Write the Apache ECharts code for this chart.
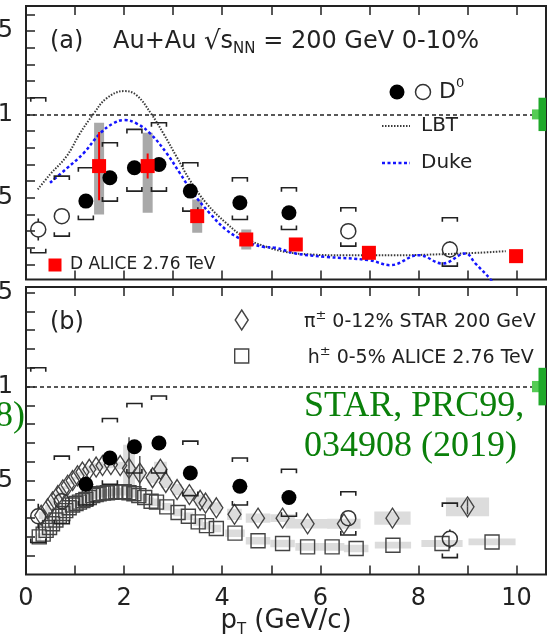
<!DOCTYPE html>
<html><head><meta charset="utf-8">
<script src="https://cdn.jsdelivr.net/npm/echarts@6/dist/echarts.min.js"></script>
<style>html,body{margin:0;padding:0;background:#fff}#main{width:552px;height:644px}</style>
</head><body><div id="main"></div>
<script>
// ---- STAR D0 R_AA, Au+Au 200 GeV 0-10% ----
const d0FilledPt = [1.22, 1.71, 2.21, 2.71, 3.35, 4.36, 5.36];
const d0FilledRaa = [0.48, 0.62, 0.68, 0.70, 0.54, 0.47, 0.41];
const d0FilledStat = [0.02, 0.02, 0.02, 0.02, 0.02, 0.02, 0.02];
const d0FilledSysLo = [0.37, 0.48, 0.54, 0.54, 0.42, 0.37, 0.31];
const d0FilledSysHi = [0.68, 0.83, 0.91, 0.95, 0.71, 0.62, 0.56];
const d0OpenPt = [0.25, 0.73, 6.57, 8.64];
const d0OpenRaa = [0.31, 0.39, 0.30, 0.19];
const d0OpenStat = [0.066, 0.02, 0.02, 0.05];
const d0OpenSysLo = [0.17, 0.27, 0.21, 0.09];
const d0OpenSysHi = [1.10, 0.63, 0.44, 0.38];

// ---- ALICE D mesons, Pb+Pb 2.76 TeV ----
const aliceDPt = [1.49, 2.48, 3.49, 4.49, 5.50, 6.99, 9.99];
const aliceDRaa = [0.69, 0.69, 0.39, 0.25, 0.22, 0.17, 0.15];
const aliceDStat = [0.205, 0.075, 0.02, 0.02, 0.02, 0.02, 0.02];
const aliceDSysLo = [0.40, 0.41, 0.29, 0.19, 0.19, 0.15, 0.13];
const aliceDSysHi = [0.95, 0.89, 0.49, 0.31, 0.25, 0.19, 0.17];

// ---- Model curves ----
const lbtPt = [0.24, 0.49, 0.83, 1.10, 1.37, 1.64, 2.00, 2.25, 2.56, 2.80, 3.07, 3.34, 3.68, 4.09, 4.49, 4.90, 5.30, 5.80, 6.50, 7.50, 8.50, 9.20, 9.78];
const lbtRaa = [0.55, 0.64, 0.75, 0.886, 1.0, 1.096, 1.14, 1.116, 1.0, 0.886, 0.746, 0.606, 0.466, 0.346, 0.256, 0.206, 0.175, 0.16, 0.155, 0.155, 0.162, 0.17, 0.18];
const dukePt = [0.49, 0.83, 1.17, 1.51, 1.78, 2.00, 2.25, 2.53, 2.87, 3.14, 3.41, 3.75, 4.09, 4.43, 4.83, 5.09, 5.50, 6.11, 6.99, 7.43, 8.01, 8.49, 8.96, 9.16, 9.47, 9.60];
const dukeRaa = [0.59, 0.676, 0.766, 0.886, 0.946, 0.966, 0.946, 0.886, 0.766, 0.646, 0.526, 0.406, 0.306, 0.246, 0.206, 0.20, 0.166, 0.146, 0.126, 0.096, 0.156, 0.106, 0.166, 0.106, 0.01, -0.05];

// ---- STAR pi+- 0-12% ----
const piPt = [0.31, 0.44, 0.54, 0.65, 0.75, 0.85, 0.95, 1.05, 1.15, 1.29, 1.43, 1.56, 1.73, 1.92, 2.10, 2.32, 2.58, 2.74, 2.85, 3.08, 3.33, 3.55, 3.66, 3.88, 4.25, 4.73, 5.23, 5.74, 6.48, 7.47, 9.00];
const piRaa = [0.315, 0.35, 0.386, 0.42, 0.45, 0.475, 0.50, 0.525, 0.545, 0.56, 0.572, 0.58, 0.585, 0.58, 0.565, 0.54, 0.515, 0.56, 0.49, 0.452, 0.425, 0.395, 0.38, 0.355, 0.32, 0.30, 0.30, 0.27, 0.27, 0.30, 0.36];
const piStat = [0, 0, 0, 0, 0, 0, 0, 0, 0, 0, 0, 0, 0, 0, 0.165, 0.09, 0, 0, 0, 0, 0, 0, 0, 0, 0, 0, 0, 0, 0, 0, 0.04];
const piSys = [0.02, 0.02, 0.02, 0.02, 0.02, 0.02, 0.02, 0.02, 0.02, 0.02, 0.02, 0.02, 0.02, 0.02, 0.125, 0.03, 0.03, 0.04, 0.03, 0.03, 0.03, 0.03, 0.03, 0.03, 0.03, 0.025, 0.02, 0.025, 0.027, 0.035, 0.05];
const piBinHalf = [0.05, 0.05, 0.05, 0.05, 0.05, 0.05, 0.05, 0.05, 0.05, 0.07, 0.07, 0.07, 0.08, 0.08, 0.12, 0.1, 0.1, 0.13, 0.1, 0.1, 0.1, 0.1, 0.1, 0.1, 0.15, 0.25, 0.25, 0.45, 0.34, 0.37, 0.44];

// ---- ALICE h+- 0-5% ----
const hPt = [0.27, 0.35, 0.41, 0.48, 0.54, 0.61, 0.68, 0.75, 0.81, 0.88, 0.95, 1.02, 1.09, 1.16, 1.22, 1.29, 1.36, 1.43, 1.49, 1.58, 1.66, 1.75, 1.83, 1.92, 2.00, 2.10, 2.20, 2.30, 2.42, 2.55, 2.66, 2.87, 3.10, 3.31, 3.51, 3.68, 3.88, 4.26, 4.73, 5.23, 5.74, 6.24, 6.73, 7.48, 8.48, 9.50];
const hRaa = [0.20, 0.215, 0.235, 0.25, 0.27, 0.29, 0.31, 0.325, 0.34, 0.355, 0.37, 0.378, 0.385, 0.393, 0.40, 0.41, 0.42, 0.425, 0.43, 0.433, 0.435, 0.438, 0.44, 0.44, 0.44, 0.435, 0.43, 0.42, 0.41, 0.39, 0.385, 0.36, 0.33, 0.31, 0.28, 0.26, 0.245, 0.22, 0.18, 0.165, 0.147, 0.147, 0.138, 0.156, 0.165, 0.173];
const hSys = [0.02, 0.02, 0.02, 0.02, 0.02, 0.02, 0.02, 0.02, 0.02, 0.02, 0.02, 0.02, 0.02, 0.02, 0.02, 0.02, 0.02, 0.02, 0.02, 0.02, 0.02, 0.02, 0.02, 0.02, 0.02, 0.02, 0.02, 0.02, 0.02, 0.02, 0.02, 0.02, 0.02, 0.02, 0.02, 0.02, 0.02, 0.02, 0.02, 0.02, 0.02, 0.02, 0.02, 0.018, 0.018, 0.018];
const hBinHalf = [0.04, 0.04, 0.04, 0.04, 0.04, 0.04, 0.04, 0.04, 0.04, 0.04, 0.04, 0.04, 0.04, 0.04, 0.04, 0.05, 0.05, 0.05, 0.05, 0.05, 0.05, 0.05, 0.05, 0.05, 0.05, 0.05, 0.05, 0.05, 0.06, 0.06, 0.1, 0.1, 0.1, 0.1, 0.1, 0.1, 0.1, 0.2, 0.25, 0.25, 0.25, 0.25, 0.25, 0.37, 0.42, 0.48];

// ---- Normalisation uncertainty at R_AA = 1 ----
const normCenter = 1.0;
const normOuter = 0.1;
const normInner = 0.03;

// ---- Axes ----
const xMin = 0, xMax = 10.6;
const xTickValues = [0, 1, 2, 3, 4, 5, 6, 7, 8, 9, 10];
const xLabelValues = [0, 2, 4, 6, 8, 10];
const yTickValues = [0.1, 0.2, 0.3, 0.4, 0.5, 0.6, 0.7, 0.8, 0.9, 1.0, 1.1, 1.2, 1.3, 1.4, 1.5, 1.6];
const yLabelValues = [0.5, 1, 1.5];

const FONT = "'DejaVu Sans', sans-serif";
const INK = '#222';
const MARKER_R = 7.5;

const zip = (...cols) => cols[0].map((_, i) => cols.map(c => c[i]));

// bracket-style systematic uncertainties [x, lo, hi]
function bracketItem(params, api) {
  const x = api.value(0);
  const pt = api.coord([x, api.value(2)]);
  const pb = api.coord([x, api.value(1)]);
  const w = 7.5, h = 4;
  const st = { stroke: INK, lineWidth: 1.6, fill: null };
  return { type: 'group', children: [
    { type: 'polyline', shape: { points: [[pt[0] - w, pt[1] + h], [pt[0] - w, pt[1]], [pt[0] + w, pt[1]], [pt[0] + w, pt[1] + h]] }, style: st },
    { type: 'polyline', shape: { points: [[pb[0] - w, pb[1] - h], [pb[0] - w, pb[1]], [pb[0] + w, pb[1]], [pb[0] + w, pb[1] - h]] }, style: st }
  ]};
}
// vertical error bar [x, y, err], drawn outside the marker
function errBar(color, lw, gap) {
  return function (params, api) {
    const x = api.value(0), y = api.value(1), e = api.value(2);
    if (!e) return null;
    const a = api.coord([x, y + e]), c = api.coord([x, y]), b = api.coord([x, y - e]);
    const st = { stroke: color, lineWidth: lw };
    if (c[1] - a[1] <= gap) return null;
    return { type: 'group', children: [
      { type: 'line', shape: { x1: a[0], y1: a[1], x2: c[0], y2: c[1] - gap }, style: st },
      { type: 'line', shape: { x1: c[0], y1: c[1] + gap, x2: b[0], y2: b[1] }, style: st }
    ]};
  };
}
// filled box [x, lo, hi] with fixed pixel width
function fixedBox(color, halfPx) {
  return function (params, api) {
    const x = api.value(0);
    const a = api.coord([x, api.value(2)]), b = api.coord([x, api.value(1)]);
    return { type: 'rect', shape: { x: a[0] - halfPx, y: a[1], width: 2 * halfPx, height: b[1] - a[1] }, style: { fill: color } };
  };
}
// filled box [x, y, sys, halfWidth] in data units
function binBox(color) {
  return function (params, api) {
    const x = api.value(0), y = api.value(1), s = api.value(2), hw = api.value(3);
    const a = api.coord([x - hw, y + s]), b = api.coord([x + hw, y - s]);
    return { type: 'rect', shape: { x: a[0], y: a[1], width: b[0] - a[0], height: b[1] - a[1] }, style: { fill: color } };
  };
}
// normalisation boxes at the right edge
function normItem(params, api) {
  const c = api.value(0), outer = api.value(1), inner = api.value(2);
  const top = api.coord([xMax, c + outer]), bot = api.coord([xMax, c - outer]);
  const ti = api.coord([xMax, c + inner]), bi = api.coord([xMax, c - inner]);
  return { type: 'group', children: [
    { type: 'rect', shape: { x: top[0] - 14, y: ti[1], width: 7, height: bi[1] - ti[1] }, style: { fill: '#55cc55' } },
    { type: 'rect', shape: { x: top[0] - 7.5, y: top[1], width: 7.5, height: bot[1] - top[1] }, style: { fill: '#1fa82a' } }
  ]};
}

function xAxisDef(gridIndex, position, labels) {
  return {
    type: 'value', gridIndex, position, min: xMin, max: xMax,
    axisLine: { show: false }, splitLine: { show: false },
    axisTick: { show: true, inside: true, length: 9, customValues: xTickValues, lineStyle: { color: INK, width: 1.5 } },
    axisLabel: labels ? { show: true, customValues: xLabelValues, fontFamily: FONT, fontSize: 24, color: INK, margin: 12 } : { show: false }
  };
}
function yAxisDef(gridIndex, min, max) {
  return {
    type: 'value', gridIndex, min, max,
    axisLine: { show: false }, splitLine: { show: false },
    axisTick: { show: true, inside: true, length: 9, customValues: yTickValues.filter(v => v < max), lineStyle: { color: INK, width: 1.5 } },
    axisLabel: { show: true, customValues: yLabelValues, fontFamily: FONT, fontSize: 24, color: INK, margin: 13 }
  };
}

const unityLine = {
  silent: true, symbol: 'none', label: { show: false },
  lineStyle: { type: [4, 3], color: INK, width: 1.5 },
  data: [{ yAxis: 1 }]
};

function d0Series(xi, yi) {
  return [
    { type: 'custom', xAxisIndex: xi, yAxisIndex: yi, renderItem: bracketItem, clip: true, z: 5,
      data: zip(d0FilledPt.concat(d0OpenPt), d0FilledSysLo.concat(d0OpenSysLo), d0FilledSysHi.concat(d0OpenSysHi)) },
    { type: 'custom', xAxisIndex: xi, yAxisIndex: yi, renderItem: errBar(INK, 1.6, MARKER_R), clip: true, z: 5,
      data: zip(d0FilledPt.concat(d0OpenPt), d0FilledRaa.concat(d0OpenRaa), d0FilledStat.concat(d0OpenStat)) },
    { type: 'scatter', xAxisIndex: xi, yAxisIndex: yi, symbol: 'circle', symbolSize: 2 * MARKER_R, z: 6,
      itemStyle: { color: '#000', opacity: 1 }, data: zip(d0FilledPt, d0FilledRaa) },
    { type: 'scatter', xAxisIndex: xi, yAxisIndex: yi, symbol: 'circle', symbolSize: 2 * MARKER_R, z: 6,
      itemStyle: { color: 'rgba(255,255,255,0)', borderColor: '#333', borderWidth: 1.5, opacity: 1 }, data: zip(d0OpenPt, d0OpenRaa) },
    { type: 'custom', xAxisIndex: xi, yAxisIndex: yi, renderItem: normItem, clip: false, z: 7,
      data: [[normCenter, normOuter, normInner]] }
  ];
}

const series = [
  // panel (a)
  { type: 'custom', xAxisIndex: 0, yAxisIndex: 0, renderItem: fixedBox('#a9a9a9', 5), clip: true, z: 2,
    data: zip(aliceDPt, aliceDSysLo, aliceDSysHi) },
  { type: 'line', xAxisIndex: 0, yAxisIndex: 0, data: zip(lbtPt, lbtRaa), smooth: 0.4, showSymbol: false, z: 3,
    lineStyle: { color: '#3a3a3a', width: 2, type: [1.5, 1.5] }, markLine: unityLine },
  { type: 'line', xAxisIndex: 0, yAxisIndex: 0, data: zip(dukePt, dukeRaa), smooth: 0.4, showSymbol: false, z: 3,
    lineStyle: { color: '#1414ff', width: 2.5, type: [3, 2.5] } },
  ...d0Series(0, 0),
  { type: 'custom', xAxisIndex: 0, yAxisIndex: 0, renderItem: errBar('#ff0000', 2, 0), clip: true, z: 7,
    data: zip(aliceDPt, aliceDRaa, aliceDStat) },
  { type: 'scatter', xAxisIndex: 0, yAxisIndex: 0, symbol: 'rect', symbolSize: 14, z: 8,
    itemStyle: { color: '#ff0000', opacity: 1 }, data: zip(aliceDPt, aliceDRaa) },

  // panel (b)
  { type: 'custom', xAxisIndex: 2, yAxisIndex: 1, renderItem: binBox('#dcdcdc'), clip: true, z: 2,
    data: zip(piPt, piRaa, piSys, piBinHalf) },
  { type: 'custom', xAxisIndex: 2, yAxisIndex: 1, renderItem: binBox('#dcdcdc'), clip: true, z: 2,
    data: zip(hPt, hRaa, hSys, hBinHalf) },
  { type: 'line', xAxisIndex: 2, yAxisIndex: 1, data: [], markLine: unityLine },
  { type: 'custom', xAxisIndex: 2, yAxisIndex: 1, renderItem: errBar('#444', 1.4, 0), clip: true, z: 3,
    data: zip(piPt, piRaa, piStat) },
  { type: 'scatter', xAxisIndex: 2, yAxisIndex: 1, symbol: 'rect', symbolSize: 14, z: 4,
    itemStyle: { color: 'rgba(255,255,255,0)', borderColor: '#444', borderWidth: 1.4, opacity: 1 }, data: zip(hPt, hRaa) },
  { type: 'scatter', xAxisIndex: 2, yAxisIndex: 1, symbol: 'diamond', symbolSize: [13, 20], z: 4,
    itemStyle: { color: 'rgba(255,255,255,0)', borderColor: '#444', borderWidth: 1.4, opacity: 1 }, data: zip(piPt, piRaa) },
  ...d0Series(2, 1)
];

const txt = (x, y, text, size, extra) => ({
  type: 'text', x, y, z: 100,
  style: Object.assign({ text, font: size + 'px ' + FONT, fill: INK, textVerticalAlign: 'middle' }, extra || {})
});

const supStyle = { fontSize: 13, fontFamily: "'DejaVu Sans'", lineHeight: 13, verticalAlign: 'top', fill: INK };

const graphic = [
  txt(50, 42, '(a)', 24),
  { type: 'text', x: 113, y: 42, z: 100, style: {
      text: 'Au+Au {rad|√}s{sub|NN} = 200 GeV 0-10%', font: '24px ' + FONT, fill: INK, textVerticalAlign: 'middle',
      lineHeight: 30,
      rich: { rad: { fontSize: 26, fontFamily: "'DejaVu Sans'", lineHeight: 30 },
              sub: { fontSize: 15, fontFamily: "'DejaVu Sans'", lineHeight: 14, verticalAlign: 'bottom', fill: INK } } } },
  // legend (a)
  { type: 'circle', shape: { cx: 397, cy: 92, r: 7.5 }, style: { fill: '#000' }, z: 100 },
  { type: 'circle', shape: { cx: 423, cy: 92, r: 7.5 }, style: { fill: 'none', stroke: '#333', lineWidth: 1.5 }, z: 100 },
  { type: 'text', x: 439, y: 92, z: 100, style: { text: 'D{sup|0}', font: '22px ' + FONT, fill: INK, textVerticalAlign: 'middle', lineHeight: 30, rich: { sup: supStyle } } },
  { type: 'line', shape: { x1: 382, y1: 126, x2: 410, y2: 126 }, style: { stroke: '#3a3a3a', lineWidth: 2, lineDash: [1.5, 1.5] }, z: 100 },
  txt(421, 126, 'LBT', 20),
  { type: 'line', shape: { x1: 382, y1: 163, x2: 410, y2: 163 }, style: { stroke: '#1414ff', lineWidth: 2.5, lineDash: [3, 2.5] }, z: 100 },
  txt(421, 163, 'Duke', 20),
  { type: 'rect', shape: { x: 48.5, y: 258.5, width: 13, height: 13 }, style: { fill: '#ff0000' }, z: 100 },
  txt(70, 265, 'D ALICE 2.76 TeV', 17),
  // panel (b)
  txt(50, 323, '(b)', 24),
  { type: 'polygon', shape: { points: [[241.7, 310], [248.2, 320], [241.7, 330], [235.2, 320]] }, style: { fill: 'none', stroke: '#444', lineWidth: 1.4 }, z: 100 },
  { type: 'text', x: 304, y: 322, z: 100, style: { text: 'π{sup|±} 0-12% STAR 200 GeV', font: '19px ' + FONT, fill: INK, textVerticalAlign: 'middle', lineHeight: 26, rich: { sup: supStyle } } },
  { type: 'rect', shape: { x: 234.7, y: 349, width: 14, height: 14 }, style: { fill: 'none', stroke: '#444', lineWidth: 1.4 }, z: 100 },
  { type: 'text', x: 307.7, y: 358, z: 100, style: { text: 'h{sup|±} 0-5% ALICE 2.76 TeV', font: '19px ' + FONT, fill: INK, textVerticalAlign: 'middle', lineHeight: 26, rich: { sup: supStyle } } },
  // reference note
  { type: 'text', x: 304, y: 407, z: 100, style: { text: 'STAR, PRC99,', font: "36px 'Liberation Serif', serif", fill: '#0a800a', textVerticalAlign: 'middle' } },
  { type: 'text', x: 304, y: 447, z: 100, style: { text: '034908 (2019)', font: "36px 'Liberation Serif', serif", fill: '#0a800a', textVerticalAlign: 'middle' } },
  { type: 'text', x: 25, y: 417, z: 100, style: { text: '8)', font: "36px 'Liberation Serif', serif", fill: '#0a800a', textVerticalAlign: 'middle', textAlign: 'right' } }
];

const chart = echarts.init(document.getElementById('main'), null, { renderer: 'canvas' });
chart.setOption({
  animation: false,
  backgroundColor: '#fff',
  grid: [
    { left: 26, top: 6, width: 520, height: 273.5, show: true, borderColor: INK, borderWidth: 2, backgroundColor: 'transparent', outerBoundsMode: 'none', containLabel: false },
    { left: 26, top: 287, width: 520, height: 287.5, show: true, borderColor: INK, borderWidth: 2, backgroundColor: 'transparent', outerBoundsMode: 'none', containLabel: false }
  ],
  xAxis: [
    xAxisDef(0, 'bottom', false),
    xAxisDef(0, 'top', false),
    Object.assign(xAxisDef(1, 'bottom', true), {
      name: '{m|p}{sub|T}{m| (GeV/c)}', nameLocation: 'middle', nameGap: 31, nameMoveOverlap: false,
      nameTextStyle: { fontFamily: FONT, fontSize: 26, color: INK, lineHeight: 32,
        rich: { m: { fontFamily: FONT, fontSize: 26, color: INK, lineHeight: 32 }, sub: { fontFamily: FONT, fontSize: 15, color: INK, lineHeight: 14, verticalAlign: 'bottom' } } }
    }),
    xAxisDef(1, 'top', false)
  ],
  yAxis: [yAxisDef(0, 0.01, 1.65), yAxisDef(1, 0, 1.53)],
  graphic,
  series
});
</script></body></html>
